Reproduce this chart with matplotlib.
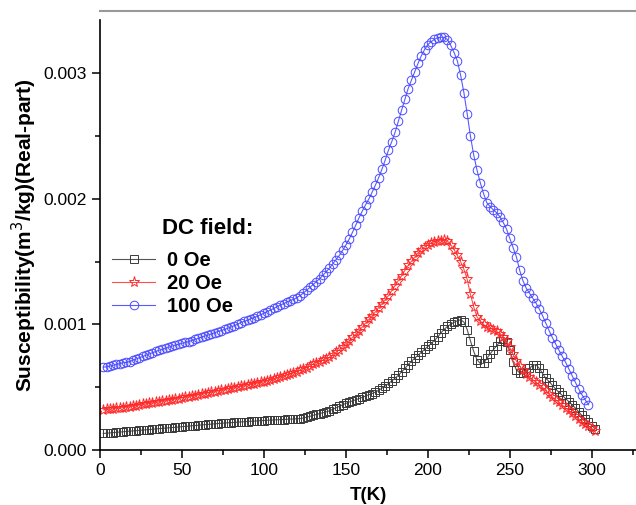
import matplotlib
matplotlib.use('Agg')
import matplotlib.pyplot as plt
from matplotlib.lines import Line2D
from matplotlib.ticker import MultipleLocator, FormatStrFormatter
import numpy as np

plt.rcParams['font.family'] = ['Liberation Sans', 'DejaVu Sans']

# temperature grid (K), a point every 2 K
temp_k = [2, 4, 6, 8, 10, 12, 14, 16, 18, 20, 22, 24, 26, 28, 30, 32, 34, 36, 38, 40,
          42, 44, 46, 48, 50, 52, 54, 56, 58, 60, 62, 64, 66, 68, 70, 72, 74, 76, 78, 80,
          82, 84, 86, 88, 90, 92, 94, 96, 98, 100, 102, 104, 106, 108, 110, 112, 114, 116, 118, 120,
          122, 124, 126, 128, 130, 132, 134, 136, 138, 140, 142, 144, 146, 148, 150, 152, 154, 156, 158, 160,
          162, 164, 166, 168, 170, 172, 174, 176, 178, 180, 182, 184, 186, 188, 190, 192, 194, 196, 198, 200,
          202, 204, 206, 208, 210, 212, 214, 216, 218, 220, 222, 224, 226, 228, 230, 232, 234, 236, 238, 240,
          242, 244, 246, 248, 250, 252, 254, 256, 258, 260, 262, 264, 266, 268, 270, 272, 274, 276, 278, 280,
          282, 284, 286, 288, 290, 292, 294, 296, 298, 300, 302]

# susceptibility in units of 1e-4 m^3/kg
chi_0oe = [1.32, 1.34, 1.36, 1.39, 1.41, 1.43, 1.45, 1.48, 1.50, 1.52, 1.54, 1.56, 1.59, 1.61, 1.63, 1.65, 1.68, 1.70, 1.72, 1.75,
           1.77, 1.79, 1.81, 1.83, 1.86, 1.88, 1.90, 1.93, 1.95, 1.97, 2.00, 2.02, 2.04, 2.06, 2.09, 2.11, 2.13, 2.15, 2.17, 2.18,
           2.20, 2.22, 2.24, 2.25, 2.27, 2.29, 2.30, 2.32, 2.34, 2.35, 2.37, 2.38, 2.39, 2.41, 2.42, 2.43, 2.45, 2.46, 2.47, 2.49,
           2.50, 2.55, 2.61, 2.68, 2.76, 2.83, 2.90, 2.97, 3.04, 3.12, 3.24, 3.36, 3.48, 3.60, 3.71, 3.82, 3.91, 4.00, 4.10, 4.20,
           4.30, 4.40, 4.50, 4.62, 4.75, 4.92, 5.10, 5.30, 5.50, 5.72, 5.95, 6.22, 6.50, 6.80, 7.07, 7.32, 7.55, 7.78, 8.02, 8.25,
           8.48, 8.73, 9.00, 9.33, 9.62, 9.85, 10.02, 10.17, 10.30, 10.37, 10.2, 9.6, 8.7, 7.85, 7.2, 6.9, 6.9, 7.3, 7.65, 8.0,
           8.3, 8.65, 8.85, 8.6, 7.95, 7.0, 6.4, 6.15, 6.1, 6.2, 6.5, 6.75, 6.8, 6.5, 6.1, 5.7, 5.45, 5.15, 4.85, 4.6,
           4.35, 4.1, 3.85, 3.6, 3.35, 3.05, 2.75, 2.45, 2.2, 1.95, 1.7]

chi_20oe = [3.20, 3.23, 3.25, 3.28, 3.31, 3.35, 3.38, 3.41, 3.45, 3.49, 3.54, 3.58, 3.63, 3.67, 3.71, 3.75, 3.79, 3.83, 3.88, 3.93,
            3.97, 4.02, 4.06, 4.10, 4.15, 4.20, 4.24, 4.29, 4.34, 4.40, 4.45, 4.50, 4.55, 4.60, 4.65, 4.70, 4.75, 4.80, 4.86, 4.91,
            4.96, 5.02, 5.07, 5.12, 5.18, 5.23, 5.28, 5.33, 5.38, 5.44, 5.50, 5.57, 5.64, 5.72, 5.80, 5.88, 5.96, 6.05, 6.15, 6.25,
            6.35, 6.45, 6.57, 6.70, 6.83, 6.95, 7.05, 7.15, 7.27, 7.40, 7.60, 7.80, 8.00, 8.23, 8.47, 8.70, 8.97, 9.23, 9.50, 9.80,
            10.1, 10.4, 10.7, 11.0, 11.35, 11.65, 11.97, 12.3, 12.7, 13.1, 13.5, 13.9, 14.3, 14.7, 15.03, 15.37, 15.7, 15.97, 16.18, 16.35,
            16.48, 16.58, 16.65, 16.68, 16.7, 16.65, 16.35, 15.97, 15.5, 15.0, 14.4, 13.6, 12.4, 11.4, 10.6, 10.27, 10.0, 9.8, 9.7, 9.58,
            9.45, 9.28, 9.03, 8.7, 8.17, 7.63, 7.1, 6.7, 6.35, 6.05, 5.82, 5.6, 5.4, 5.2, 4.98, 4.75, 4.48, 4.22, 4.0, 3.8,
            3.58, 3.35, 3.15, 2.93, 2.7, 2.47, 2.25, 2.05, 1.88, 1.72, 1.55]

chi_100oe = [6.60, 6.63, 6.68, 6.75, 6.82, 6.88, 6.95, 6.98, 7.05, 7.15, 7.25, 7.35, 7.45, 7.55, 7.65, 7.75, 7.85, 7.94, 8.02, 8.11,
             8.19, 8.28, 8.36, 8.43, 8.50, 8.57, 8.64, 8.72, 8.81, 8.90, 9.00, 9.08, 9.16, 9.25, 9.35, 9.44, 9.52, 9.61, 9.70, 9.80,
             9.91, 10.03, 10.15, 10.25, 10.35, 10.45, 10.55, 10.66, 10.78, 10.89, 11.02, 11.15, 11.28, 11.42, 11.55, 11.66, 11.78, 11.9, 12.0, 12.13,
             12.3, 12.5, 12.72, 12.95, 13.18, 13.42, 13.65, 13.92, 14.2, 14.5, 14.83, 15.17, 15.5, 15.9, 16.33, 16.8, 17.33, 17.9, 18.5, 19.03,
             19.53, 20.0, 20.53, 21.1, 21.7, 22.37, 23.1, 23.9, 24.57, 25.3, 26.2, 27.07, 27.93, 28.8, 29.47, 30.13, 30.8, 31.4, 31.9, 32.3,
             32.53, 32.72, 32.85, 32.88, 32.88, 32.7, 32.23, 31.67, 31.0, 29.87, 28.47, 26.8, 25.0, 23.5, 22.3, 21.3, 20.43, 19.7, 19.4, 19.13,
             18.9, 18.57, 18.13, 17.6, 16.87, 16.13, 15.4, 14.33, 13.5, 12.9, 12.5, 12.1, 11.7, 11.23, 10.7, 10.1, 9.5, 8.95, 8.45, 7.95,
             7.47, 7.0, 6.47, 5.93, 5.4, 4.87, 4.4, 4.0, 3.6]

series = [
    ('0 Oe', chi_0oe, dict(marker='s', ms=5.2, mec='#3a3a3a', color='#555555')),
    ('20 Oe', chi_20oe, dict(marker='*', ms=8, mec='#ff2a2a', color='#ff5050')),
    ('100 Oe', chi_100oe, dict(marker='o', ms=6.2, mec='#4a4aff', color='#5a5aff')),
]

fig = plt.figure(figsize=(6.36, 5.05), dpi=100)
ax = fig.add_axes([100 / 636, 55 / 505, 536 / 636, 430 / 505])

for name, vals, style in series:
    t = np.array(temp_k[:len(vals)])
    y = np.array(vals) * 1e-4
    ax.plot(t, y, label=name, lw=0.8, mfc='none', mew=0.7, **style)

ax.set_xlim(0, 327)
ax.set_ylim(0, 0.003426)
ax.spines['top'].set_visible(False)
ax.spines['right'].set_visible(False)
ax.spines['left'].set_linewidth(1.2)
ax.spines['bottom'].set_linewidth(1.2)

ax.xaxis.set_major_locator(MultipleLocator(50))
ax.xaxis.set_minor_locator(MultipleLocator(25))
ax.yaxis.set_major_locator(MultipleLocator(0.001))
ax.yaxis.set_minor_locator(MultipleLocator(0.0005))
ax.yaxis.set_major_formatter(FormatStrFormatter('%.3f'))
ax.tick_params(which='major', direction='out', length=6, width=1.1, labelsize=12.5)
ax.tick_params(which='minor', direction='out', length=3.5, width=1.1)

ax.set_xlabel('T(K)', fontsize=13.5, fontweight='bold', labelpad=6)
ax.set_ylabel('Susceptibility(m$^3$/kg)(Real-part)', fontsize=15, fontweight='bold', labelpad=3)

leg = ax.legend(loc='upper left', bbox_to_anchor=(112 / 636, 1 - 251 / 505),
                bbox_transform=fig.transFigure, frameon=False, numpoints=1,
                handlelength=2.15, handletextpad=0.6, labelspacing=0.2,
                borderpad=0, borderaxespad=0,
                prop={'size': 14.5, 'weight': 'bold'})
fig.text(162 / 636, 1 - 228 / 505, 'DC field:', fontsize=16, fontweight='bold', va='center')

# thin grey rule along the top of the image
fig.add_artist(Line2D([100 / 636, 1], [1 - 11 / 505] * 2, color='#999999', lw=1.5))

fig.savefig('out.png', dpi=100)
